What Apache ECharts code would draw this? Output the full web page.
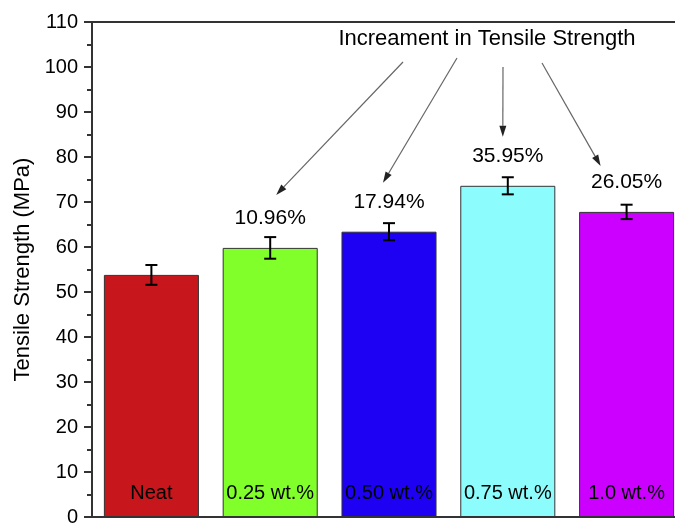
<!DOCTYPE html>
<html>
<head>
<meta charset="utf-8">
<script src="https://cdn.jsdelivr.net/npm/echarts@6/dist/echarts.min.js"></script>
<style>html,body{margin:0;padding:0;background:#fff}#c{width:675px;height:523px}</style>
</head>
<body>
<div id="c"></div>
<script>
var categories = ['Neat', '0.25 wt.%', '0.50 wt.%', '0.75 wt.%', '1.0 wt.%'];
var strength = [53.8, 59.8, 63.4, 73.6, 67.8];
var errors = [2.2, 2.4, 1.9, 1.9, 1.6];
var increments = ['', '10.96%', '17.94%', '35.95%', '26.05%'];
var colors = ['#C8161D', '#80FF2A', '#1E00F2', '#8CFCFC', '#CC00FF'];
var annotationTitle = 'Increament in Tensile Strength';

var FONT = 'Liberation Sans, Arial, sans-serif';
var chart = echarts.init(document.getElementById('c'), null, {renderer: 'canvas'});

var errData = strength.map(function (v, i) { return [i, v - errors[i], v + errors[i]]; });

chart.setOption({
  animation: false,
  title: {
    text: annotationTitle,
    left: 482, top: 23, textAlign: 'center',
    textStyle: {fontFamily: FONT, fontSize: 22, fontWeight: 'normal', color: '#000'}
  },
  grid: {left: 92, top: 22, width: 594, height: 495, outerBoundsMode: 'none', containLabel: false,
         show: true, borderColor: '#333', borderWidth: 2, backgroundColor: 'transparent'},
  xAxis: {
    type: 'category', data: categories,
    axisLine: {show: true, lineStyle: {color: '#333', width: 2}},
    axisTick: {show: false},
    axisLabel: {inside: true, margin: 14, fontFamily: FONT, fontSize: 20, color: '#000'},
    z: 10
  },
  yAxis: {
    type: 'value', min: 0, max: 110, interval: 10,
    name: 'Tensile Strength (MPa)', nameLocation: 'middle', nameGap: 58,
    nameTextStyle: {fontFamily: FONT, fontSize: 22, color: '#000'},
    axisLine: {show: true, lineStyle: {color: '#333', width: 2}},
    axisTick: {show: true, inside: false, length: 8, lineStyle: {color: '#333', width: 2}},
    minorTick: {show: true, splitNumber: 2, length: 5, lineStyle: {color: '#333', width: 2}},
    axisLabel: {margin: 14, fontFamily: FONT, fontSize: 20, color: '#000'},
    splitLine: {show: false}
  },
  series: [
    {
      type: 'bar', barCategoryGap: '20%',
      data: strength.map(function (v, i) {
        return {value: v, itemStyle: {color: colors[i]}};
      }),
      itemStyle: {borderColor: '#333', borderWidth: 1},
      label: {
        show: true, position: 'top', distance: 19,
        fontFamily: FONT, fontSize: 21, color: '#000',
        formatter: function (p) { return increments[p.dataIndex]; }
      }
    },
    {
      type: 'custom', z: 5,
      data: errData,
      renderItem: function (params, api) {
        var x = api.value(0);
        var hi = api.coord([x, api.value(2)]);
        var lo = api.coord([x, api.value(1)]);
        var hw = 6;
        var st = {stroke: '#000', lineWidth: 2};
        return {type: 'group', children: [
          {type: 'line', shape: {x1: hi[0], y1: hi[1], x2: lo[0], y2: lo[1]}, style: st},
          {type: 'line', shape: {x1: hi[0] - hw, y1: hi[1], x2: hi[0] + hw, y2: hi[1]}, style: st},
          {type: 'line', shape: {x1: lo[0] - hw, y1: lo[1], x2: lo[0] + hw, y2: lo[1]}, style: st}
        ]};
      }
    }
  ]
});

// annotation arrows from the title to the increment labels
var arrowStarts = [[403, 62], [457, 58], [503, 67], [542, 63]];
var arrowEndOffsets = [[6, -53], [-6, -49], [-5, -49], [-26, -46]];
var graphics = [];
for (var k = 0; k < 4; k++) {
  var idx = k + 1;
  var p = chart.convertToPixel({gridIndex: 0}, [idx, strength[idx]]);
  var ex = p[0] + arrowEndOffsets[k][0], ey = p[1] + arrowEndOffsets[k][1];
  var sx = arrowStarts[k][0], sy = arrowStarts[k][1];
  var ang = Math.atan2(ey - sy, ex - sx);
  var L = 11, W = 3.5;
  var bx = ex - L * Math.cos(ang), by = ey - L * Math.sin(ang);
  var nx = -Math.sin(ang) * W, ny = Math.cos(ang) * W;
  graphics.push({type: 'line', shape: {x1: sx, y1: sy, x2: bx, y2: by}, style: {stroke: '#666', lineWidth: 1.2}, z: 20});
  graphics.push({type: 'polygon', shape: {points: [[ex, ey], [bx + nx, by + ny], [bx - nx, by - ny]]}, style: {fill: '#222'}, z: 20});
}
chart.setOption({graphic: graphics});
</script>
</body>
</html>
